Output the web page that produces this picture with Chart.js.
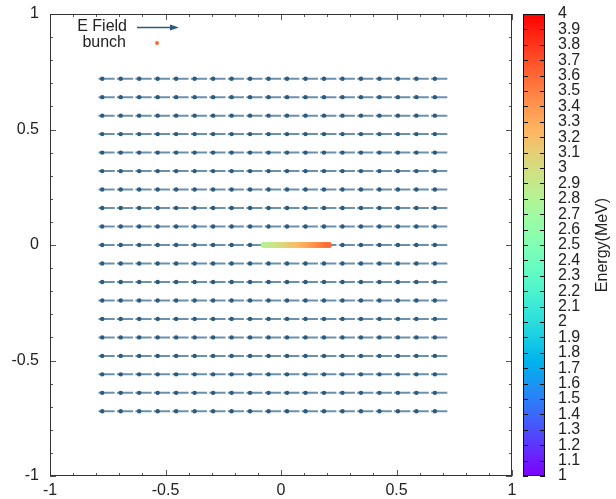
<!DOCTYPE html>
<html>
<head>
<meta charset="utf-8">
<script src="https://cdn.jsdelivr.net/npm/chart.js@4.4.1/dist/chart.umd.min.js"></script>
<style>
  html, body { margin: 0; padding: 0; background: #fff; }
  #wrap { position: relative; width: 616px; height: 499px; }
  #main { position: absolute; left: 0; top: 0; }
  #cbar { position: absolute; left: 500px; top: 0; }
</style>
</head>
<body>
<div id="wrap">
  <canvas id="main" width="616" height="499"></canvas>
  <canvas id="cbar" width="116" height="499"></canvas>
</div>
<script>
//  Values
const axisTicks = [-1, -0.5, 0, 0.5, 1];
const gridX = [-0.72, -0.64, -0.56, -0.48, -0.40, -0.32, -0.24, -0.16, -0.08, 0,
               0.08, 0.16, 0.24, 0.32, 0.40, 0.48, 0.56, 0.64, 0.72];
const gridY = [-0.72, -0.64, -0.56, -0.48, -0.40, -0.32, -0.24, -0.16, -0.08, 0,
               0.08, 0.16, 0.24, 0.32, 0.40, 0.48, 0.56, 0.64, 0.72];
const fieldVector = [-0.07, 0];     // same E field arrow at every grid point
const bunchX = [-0.075, -0.067, -0.059, -0.051, -0.043, -0.035, -0.027, -0.019, -0.011, -0.003,
                0.005, 0.013, 0.021, 0.029, 0.037, 0.045, 0.053, 0.061, 0.069, 0.077,
                0.085, 0.093, 0.101, 0.109, 0.117, 0.125, 0.133, 0.141, 0.149, 0.157,
                0.165, 0.173, 0.181, 0.190, 0.199, 0.208];
const bunchY = bunchX.map(() => 0);
const bunchE = [2.80, 2.82, 2.84, 2.86, 2.89, 2.91, 2.93, 2.95, 2.98, 3.00,
                3.02, 3.04, 3.07, 3.09, 3.11, 3.13, 3.16, 3.18, 3.20, 3.22,
                3.25, 3.27, 3.29, 3.31, 3.34, 3.36, 3.38, 3.40, 3.43, 3.45,
                3.47, 3.49, 3.52, 3.54, 3.57, 3.60];
const cbMin = 1, cbMax = 4, cbStep = 0.1;

const FONT = { family: '"Liberation Sans", Arial, sans-serif', size: 16 };
const TXT = '#222';

//  rainbow palette, energy -> colour
function rainbow(e) {
    const t = Math.max(0, Math.min(1, (e - cbMin) / (cbMax - cbMin)));
    const r = Math.min(1, Math.abs(2 * t - 0.5));
    const g = Math.sin(Math.PI * t);
    const b = Math.cos(Math.PI * t / 2);
    return 'rgb(' + Math.round(r * 255) + ',' + Math.round(g * 255) + ',' + Math.round(b * 255) + ')';
}

//  no extra room for end labels, the plot box is fixed
function noPad(s) {
    s.paddingTop = 0; s.paddingBottom = 0; s.paddingLeft = 0; s.paddingRight = 0;
}

//  build arrow segments (tail -> tip, null to break the line)
const fieldLines = [];
const fieldHeads = [];
gridY.forEach(y => {
    gridX.forEach(x => {
        fieldLines.push({ x: x, y: y }, { x: x + fieldVector[0], y: y + fieldVector[1] }, { x: null, y: null });
        fieldHeads.push({ x: x + fieldVector[0] * 0.77, y: y + fieldVector[1] * 0.77 });
    });
});
const bunchPts = bunchX.map((x, i) => ({ x: x, y: bunchY[i] }));

//  border, inward ticks and key for the main plot
const framePlugin = {
    id: 'frame',
    afterDatasetsDraw(chart) {
        const ctx = chart.ctx, a = chart.chartArea;
        const xs = chart.scales.x, ys = chart.scales.y;
        ctx.save();
        ctx.strokeStyle = '#555';
        ctx.lineWidth = 1;
        ctx.beginPath();
        for (let k = -10; k <= 10; k++) {
            const v = k / 10;
            const len = (k % 5 === 0) ? 6 : 3;
            const px = Math.round(xs.getPixelForValue(v)) + 0.5;
            const py = Math.round(ys.getPixelForValue(v)) + 0.5;
            ctx.moveTo(px, a.bottom); ctx.lineTo(px, a.bottom - len);
            ctx.moveTo(px, a.top); ctx.lineTo(px, a.top + len);
            ctx.moveTo(a.left, py); ctx.lineTo(a.left + len, py);
            ctx.moveTo(a.right, py); ctx.lineTo(a.right - len, py);
        }
        ctx.stroke();
        ctx.strokeStyle = '#333';
        ctx.strokeRect(a.left + 0.5, a.top + 0.5, a.right - a.left - 1, a.bottom - a.top - 1);

        // key
        const ds = chart.data.datasets;
        ctx.font = FONT.size + 'px ' + FONT.family;
        ctx.fillStyle = TXT;
        ctx.textAlign = 'right';
        ctx.textBaseline = 'middle';
        ctx.fillText(ds[0].label, 127, 27);
        ctx.fillText(ds[2].label, 126, 43);
        ctx.strokeStyle = '#2c5b7d';
        ctx.lineWidth = 1.3;
        ctx.beginPath();
        ctx.moveTo(137, 27.5); ctx.lineTo(172, 27.5);
        ctx.stroke();
        ctx.fillStyle = '#2c5b7d';
        ctx.beginPath();
        ctx.moveTo(179, 27.5); ctx.lineTo(170, 24.5); ctx.lineTo(170, 30.5);
        ctx.closePath(); ctx.fill();
        ctx.fillStyle = '#ff6633';
        ctx.beginPath();
        ctx.arc(157, 43, 2, 0, Math.PI * 2);
        ctx.fill();
        ctx.restore();
    }
};

new Chart(document.getElementById('main'), {
    type: 'scatter',
    data: {
        datasets: [{
            label: 'E Field',
            data: fieldLines,
            order: 3,
            showLine: true,
            spanGaps: false,
            borderColor: 'rgba(70,118,152,0.8)',
            borderWidth: 2,
            pointRadius: 0
        }, {
            label: 'E Field heads',
            data: fieldHeads,
            order: 2,
            pointRadius: 2.2,
            pointBackgroundColor: '#2c5b7d',
            pointBorderWidth: 0
        }, {
            label: 'bunch',
            data: bunchPts,
            order: 1,
            pointRadius: 3,
            pointBorderWidth: 0,
            pointBackgroundColor: c => rainbow(bunchE[c.dataIndex])
        }]
    },
    options: {
        responsive: false,
        animation: false,
        events: [],
        layout: { padding: { top: 14, right: 104, left: 0, bottom: 0 } },
        plugins: { legend: { display: false }, tooltip: { enabled: false } },
        scales: {
            x: {
                type: 'linear', min: -1, max: 1,
                afterFit(s) { s.height = 23; noPad(s); },
                afterBuildTicks(s) { s.ticks = axisTicks.map(v => ({ value: v })); },
                ticks: { font: FONT, color: TXT, padding: 5, maxRotation: 0, callback: v => String(v) },
                grid: { display: false, drawTicks: false },
                border: { display: false }
            },
            y: {
                type: 'linear', min: -1, max: 1,
                afterFit(s) { s.width = 50; noPad(s); },
                afterBuildTicks(s) { s.ticks = axisTicks.map(v => ({ value: v })); },
                ticks: { font: FONT, color: TXT, padding: 11, callback: v => String(v) },
                grid: { display: false, drawTicks: false },
                border: { display: false }
            }
        }
    },
    plugins: [framePlugin]
});

//  colour bar
const cbarPlugin = {
    id: 'cbarTicks',
    afterDatasetsDraw(chart) {
        const ctx = chart.ctx, a = chart.chartArea, ys = chart.scales.y;
        ctx.save();
        ctx.strokeStyle = '#111';
        ctx.lineWidth = 1;
        ctx.beginPath();
        ys.ticks.forEach(t => {
            const py = Math.round(ys.getPixelForValue(t.value)) + 0.5;
            ctx.moveTo(a.left, py); ctx.lineTo(a.left + 5, py);
            ctx.moveTo(a.right, py); ctx.lineTo(a.right - 5, py);
        });
        ctx.stroke();
        ctx.strokeRect(a.left + 0.5, a.top + 0.5, a.right - a.left - 1, a.bottom - a.top - 1);
        ctx.font = FONT.size + 'px ' + FONT.family;
        ctx.fillStyle = TXT;
        ctx.textAlign = 'center';
        ctx.textBaseline = 'middle';
        ctx.translate(103, (a.top + a.bottom) / 2);
        ctx.rotate(-Math.PI / 2);
        ctx.fillText('Energy(MeV)', 0, 0);
        ctx.restore();
    }
};

function barGradient(c) {
    const a = c.chart.chartArea;
    if (!a) return rainbow(2.5);
    const g = c.chart.ctx.createLinearGradient(0, a.bottom, 0, a.top);
    for (let i = 0; i <= 20; i++) {
        g.addColorStop(i / 20, rainbow(cbMin + (cbMax - cbMin) * i / 20));
    }
    return g;
}

new Chart(document.getElementById('cbar'), {
    type: 'bar',
    data: {
        labels: [''],
        datasets: [{
            data: [[cbMin, cbMax]],
            backgroundColor: barGradient,
            borderWidth: 0,
            barPercentage: 1,
            categoryPercentage: 1
        }]
    },
    options: {
        responsive: false,
        animation: false,
        events: [],
        layout: { padding: { left: 23, top: 14, bottom: 23, right: 0 } },
        plugins: { legend: { display: false }, tooltip: { enabled: false } },
        scales: {
            x: { display: false },
            y: {
                position: 'right', min: cbMin, max: cbMax,
                afterFit(s) { s.width = 71; noPad(s); },
                ticks: { stepSize: cbStep, autoSkip: false, font: FONT, color: TXT, padding: 13,
                         callback: v => String(+v.toFixed(1)) },
                grid: { display: false, drawTicks: false },
                border: { display: false }
            }
        }
    },
    plugins: [cbarPlugin]
});
</script>
</body>
</html>
